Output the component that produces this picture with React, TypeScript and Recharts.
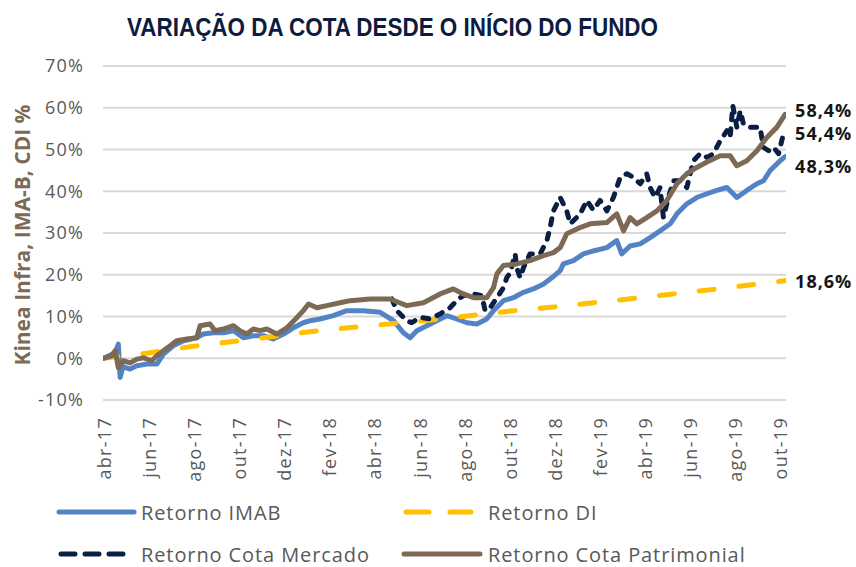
import { CartesianGrid, Line, LineChart, XAxis, YAxis } from "recharts";

// x = months since abr-17, y = return in %
const tickMonths = [0, 2, 4, 6, 8, 10, 12, 14, 16, 18, 20, 22, 24, 26, 28, 30];
const tickLabels = [
  "abr-17", "jun-17", "ago-17", "out-17", "dez-17", "fev-18", "abr-18", "jun-18",
  "ago-18", "out-18", "dez-18", "fev-19", "abr-19", "jun-19", "ago-19", "out-19",
];
const yTicks = [-10, 0, 10, 20, 30, 40, 50, 60, 70];

const imab: [number, number][] = [
  [-0.16, 0], [0.36, 1.3], [0.5, 3.4], [0.58, -4.6], [0.71, -2.0], [1.02, -2.6],
  [1.32, -1.8], [1.76, -1.4], [2.21, -1.4], [2.5, 1.0], [2.94, 3.0], [3.39, 4.2],
  [3.98, 4.9], [4.27, 5.8], [4.72, 6.1], [5.16, 6.1], [5.61, 6.6], [6.05, 4.9],
  [6.49, 5.4], [6.94, 5.4], [7.38, 4.6], [7.83, 5.8], [8.27, 7.3], [8.71, 8.5],
  [9.01, 9.0], [9.45, 9.4], [10.04, 10.2], [10.64, 11.4], [11.38, 11.4], [12.12, 11.0],
  [12.71, 9.0], [13.15, 6.1], [13.45, 4.9], [13.75, 6.6], [14.19, 7.8], [14.63, 9.0],
  [15.08, 10.2], [15.52, 9.4], [15.97, 8.5], [16.41, 8.2], [16.85, 9.4], [17.15, 11.4],
  [17.59, 13.8], [18.03, 14.5], [18.48, 15.8], [18.92, 16.6], [19.37, 17.8], [19.81, 19.6],
  [20.11, 21.0], [20.25, 22.6], [20.7, 23.4], [21.14, 25.0], [21.58, 25.7], [22.18, 26.5],
  [22.62, 28.2], [22.84, 25.0], [23.21, 26.9], [23.66, 27.4], [24.1, 28.9], [24.54, 30.5],
  [24.99, 32.2], [25.29, 34.6], [25.73, 37.0], [26.17, 38.5], [26.62, 39.4], [27.06, 40.2],
  [27.51, 40.9], [27.95, 38.5], [28.39, 40.2], [28.84, 41.8], [29.13, 42.5], [29.43, 45.0],
  [29.87, 47.3], [30.09, 48.3],
];

const di: [number, number][] = [
  [-0.18, 0], [1.9, 1.3], [3.6, 2.7], [5.4, 3.9], [7.2, 5.1], [8.9, 6.3], [10.7, 7.3],
  [12.5, 8.2], [14.1, 9.0], [16.1, 10.2], [17.9, 11.3], [19.7, 12.2], [21.6, 13.3],
  [23.5, 14.4], [25.3, 15.5], [27.1, 16.6], [28.9, 17.8], [30.09, 18.6],
];

const cotaMercado: [number, number][] = [
  [12.64, 14.2], [12.86, 11.4], [13.3, 9.0], [13.52, 8.5], [13.89, 9.8], [14.34, 9.4],
  [14.78, 10.6], [15.22, 12.1], [15.59, 14.2], [15.81, 15.0], [16.26, 15.4], [16.63, 15.0],
  [16.78, 11.4], [17.0, 12.1], [17.3, 14.5], [17.59, 16.9], [17.74, 19.3], [17.89, 20.5],
  [18.11, 25.0], [18.18, 21.7], [18.33, 19.3], [18.48, 21.7], [18.77, 25.0], [19.22, 25.0],
  [19.52, 28.2], [19.66, 31.3], [19.81, 35.3], [20.11, 38.5], [20.4, 35.3], [20.55, 32.2],
  [20.99, 34.5], [21.29, 37.8], [21.58, 35.5], [21.88, 37.8], [22.18, 35.3], [22.47, 38.5],
  [22.77, 43.3], [23.07, 44.2], [23.36, 43.3], [23.66, 41.8], [23.95, 44.2], [24.1, 40.9],
  [24.32, 38.5], [24.54, 40.9], [24.69, 33.7], [24.91, 38.5], [25.14, 42.5], [25.43, 42.5],
  [25.73, 40.9], [26.02, 47.3], [26.32, 49.0], [26.62, 48.1], [26.91, 49.0], [27.21, 52.1],
  [27.51, 54.5], [27.65, 52.9], [27.77, 60.5], [27.95, 55.3], [28.1, 59.3], [28.24, 56.1],
  [28.54, 55.3], [28.98, 55.3], [29.13, 50.5], [29.36, 49.7], [29.58, 50.5], [29.8, 49.0],
  [30.02, 53.8], [30.09, 54.4],
];

const cotaPatrimonial: [number, number][] = [
  [-0.16, 0], [0.21, 0.6], [0.36, 1.8], [0.5, -2.3], [0.72, -0.6], [1.02, -1.1],
  [1.32, -0.2], [1.61, 0.1], [1.98, -0.6], [2.21, 0.6], [2.5, 1.8], [2.8, 3.0],
  [3.09, 4.2], [3.54, 4.6], [3.98, 4.9], [4.13, 7.8], [4.57, 8.2], [4.79, 6.6],
  [5.16, 7.0], [5.61, 7.8], [5.9, 6.6], [6.2, 5.8], [6.49, 7.0], [6.79, 6.6],
  [7.09, 7.0], [7.53, 5.8], [7.98, 7.3], [8.42, 9.7], [8.71, 11.4], [8.94, 13.0],
  [9.31, 12.1], [9.75, 12.6], [10.34, 13.3], [10.79, 13.8], [11.67, 14.2], [12.56, 14.2],
  [13.3, 12.6], [14.04, 13.3], [14.78, 15.4], [15.37, 16.6], [15.81, 15.4], [16.26, 14.5],
  [16.85, 14.5], [17.15, 16.9], [17.3, 20.2], [17.59, 22.2], [18.18, 22.6], [18.77, 23.4],
  [19.37, 24.6], [19.81, 25.3], [20.11, 26.5], [20.4, 29.8], [20.99, 31.3], [21.44, 32.2],
  [22.18, 32.5], [22.62, 34.6], [22.92, 30.5], [23.21, 33.7], [23.51, 32.2], [23.95, 33.7],
  [24.4, 35.3], [24.84, 37.8], [25.29, 41.8], [25.73, 44.2], [26.17, 45.7], [26.62, 47.0],
  [27.21, 48.5], [27.65, 48.5], [27.95, 46.1], [28.39, 47.3], [28.84, 49.7], [29.28, 52.9],
  [29.72, 55.3], [30.09, 58.4],
];

const series = [
  { name: "Retorno IMAB", points: imab, color: "#5383c4", dash: undefined, labelDy: 9 },
  { name: "Retorno DI", points: di, color: "#ffc000", dash: "15 25", labelDy: 0 },
  { name: "Retorno Cota Mercado", points: cotaMercado, color: "#0b1e44", dash: "6 9", labelDy: 2 },
  { name: "Retorno Cota Patrimonial", points: cotaPatrimonial, color: "#7c6a55", dash: undefined, labelDy: -4 },
];

const FONT = "'Open Sans', 'Noto Sans', sans-serif";
const GRAY = "#595959";

function formatPct(v: number) {
  return `${v.toFixed(1).replace(".", ",")}%`;
}

function XTick({ x, y, payload }: any) {
  const label = tickLabels[tickMonths.indexOf(payload.value)];
  return (
    <text
      transform={`translate(${x + 4}, ${y + 9}) rotate(-90)`}
      textAnchor="end"
      fill={GRAY}
      fontSize={18}
      fontFamily={FONT}
      letterSpacing={1.3}
    >
      {label}
    </text>
  );
}

function YTitle({ viewBox }: any) {
  const cx = 22;
  const cy = viewBox.y + viewBox.height / 2 + 2;
  return (
    <text
      transform={`translate(${cx}, ${cy}) rotate(-90)`}
      textAnchor="middle"
      dominantBaseline="central"
      fill="#7c6a55"
      fontSize={21}
      fontWeight={700}
      fontFamily={FONT}
    >
      Kinea Infra, IMA-B, CDI %
    </text>
  );
}

function endLabel(lastIndex: number, dy: number) {
  return (props: any) => {
    if (props.index !== lastIndex) return null;
    return (
      <text
        x={props.x + 10}
        y={props.y + dy}
        dominantBaseline="central"
        fill="#151515"
        fontSize={18}
        fontWeight={700}
        fontFamily={FONT}
        letterSpacing={1}
      >
        {formatPct(props.value)}
      </text>
    );
  };
}

const legendItems = [
  { s: series[0], x: 59, w: 75, tx: 141, y: 32, dash: undefined },
  { s: series[1], x: 406, w: 65, tx: 488, y: 32, dash: "23 21" },
  { s: series[2], x: 61, w: 64, tx: 141, y: 74, dash: "14 10" },
  { s: series[3], x: 404, w: 76, tx: 488, y: 74, dash: undefined },
];

export default function App() {
  return (
    <div style={{ position: "absolute", left: 0, top: 0, width: 856, height: 567, background: "#fff" }}>
      <svg width={856} height={60} style={{ position: "absolute", left: 0, top: 0 }}>
        <text
          x={127}
          y={36}
          textLength={531}
          lengthAdjust="spacingAndGlyphs"
          fill="#0d1b3e"
          fontSize={25}
          fontWeight={700}
          fontFamily="'Liberation Sans', Arial, sans-serif"
        >
          VARIAÇÃO DA COTA DESDE O INÍCIO DO FUNDO
        </text>
      </svg>
      <div style={{ position: "absolute", left: 0, top: 0 }}>
        <LineChart width={856} height={500} margin={{ top: 66, right: 70, bottom: 0, left: 0 }}>
          <CartesianGrid vertical={false} stroke="#d9d9d9" strokeWidth={2} />
          <XAxis
            type="number"
            dataKey="t"
            domain={[-0.18, 30.13]}
            ticks={tickMonths}
            interval={0}
            allowDataOverflow
            axisLine={false}
            tickLine={false}
            height={100}
            tick={<XTick />}
          />
          <YAxis
            type="number"
            domain={[-10, 70]}
            ticks={yTicks}
            interval={0}
            axisLine={false}
            tickLine={false}
            width={103}
            tickMargin={13}
            tickFormatter={(v: number) => `${v}%`}
            tick={{ fill: GRAY, fontSize: 18, fontFamily: FONT, letterSpacing: 1.2 }}
            label={<YTitle />}
          />
          {series.map((s) => (
            <Line
              key={s.name}
              data={s.points.map(([t, v]) => ({ t, v }))}
              dataKey="v"
              name={s.name}
              type="linear"
              stroke={s.color}
              strokeWidth={5}
              strokeDasharray={s.dash}
              strokeLinecap="round"
              strokeLinejoin="round"
              dot={false}
              activeDot={false}
              isAnimationActive={false}
              label={endLabel(s.points.length - 1, s.labelDy)}
            />
          ))}
        </LineChart>
      </div>
      <svg width={856} height={87} style={{ position: "absolute", left: 0, top: 480 }}>
        {legendItems.map((item) => (
          <g key={item.s.name}>
            <line
              x1={item.x}
              x2={item.x + item.w}
              y1={item.y}
              y2={item.y}
              stroke={item.s.color}
              strokeWidth={5}
              strokeLinecap="round"
              strokeDasharray={item.dash}
            />
            <text
              x={item.tx}
              y={item.y}
              dominantBaseline="central"
              fill={GRAY}
              fontSize={20}
              fontFamily={FONT}
              letterSpacing={0.9}
            >
              {item.s.name}
            </text>
          </g>
        ))}
      </svg>
    </div>
  );
}
